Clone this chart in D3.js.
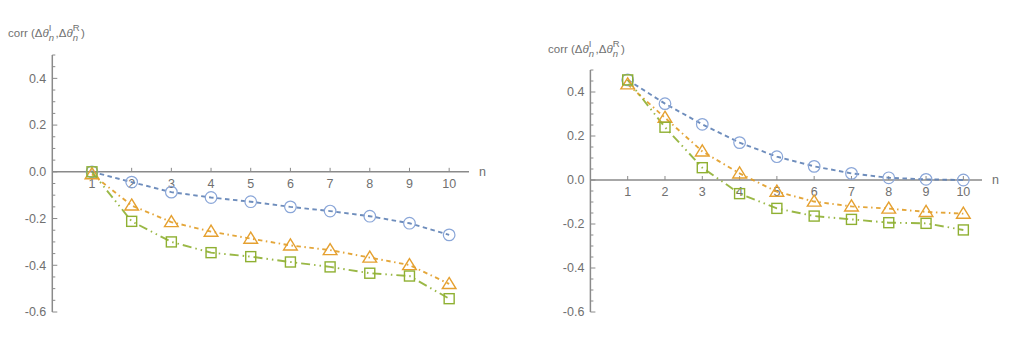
<!DOCTYPE html>
<html><head><meta charset="utf-8">
<script src="https://cdn.jsdelivr.net/npm/d3@7"></script>
<style>
html,body{margin:0;padding:0;background:#fff;}
svg text{font-family:"Liberation Sans",Arial,sans-serif;}
</style></head>
<body>
<svg id="c" width="1024" height="340"></svg>
<script>
const nValues = [1,2,3,4,5,6,7,8,9,10];
const xTickLabels = [1,2,3,4,5,6,7,8,9,10];
const yTickLabels = [0.4,0.2,0.0,-0.2,-0.4,-0.6];
const leftCircle   = [0.0,-0.044,-0.087,-0.11,-0.128,-0.15,-0.168,-0.19,-0.22,-0.27];
const leftTriangle = [-0.01,-0.144,-0.215,-0.256,-0.286,-0.315,-0.335,-0.367,-0.399,-0.48];
const leftSquare   = [0.0,-0.212,-0.30,-0.346,-0.363,-0.386,-0.407,-0.434,-0.446,-0.543];
const rightCircle   = [0.455,0.347,0.253,0.17,0.106,0.062,0.03,0.01,0.003,0.0];
const rightTriangle = [0.435,0.283,0.13,0.03,-0.053,-0.098,-0.12,-0.13,-0.145,-0.153];
const rightSquare   = [0.455,0.24,0.056,-0.062,-0.129,-0.164,-0.179,-0.194,-0.197,-0.227];

const svg = d3.select("#c");
const axisColor = "#8a8a8a", textColor = "#707070";

const seriesStyle = [
  {line:"#5E81B5", mark:"#8aa6d8", dash:"4.5,3.5", shape:"circle"},
  {line:"#E19C24", mark:"#E5A030", dash:"4.5,3.5,1.5,3.5", shape:"triangle"},
  {line:"#8FB032", mark:"#8FB032", dash:"9,4,1.5,4,1.5,4", shape:"square"}
];

function yLabel(g, x0, yb) {
  let cx = x0;
  const fs = 11.5, sfs = 9.5;
  function piece(txt, size, dy, italic) {
    const t = g.append("text").attr("x",cx).attr("y",yb+dy).attr("font-size",size)
      .attr("fill",textColor).attr("font-style",italic?"italic":"normal").text(txt);
    return t.node().getComputedTextLength();
  }
  function supsub(sup, sub) {
    const w1 = piece(sup, sfs, -6, false);
    const w2 = piece(sub, sfs, 4, true);
    cx += Math.max(w1,w2) + 1.5;
  }
  cx += piece("corr (Δ", fs, 0, false);
  cx += piece("θ", fs, 0, true);
  supsub("I","n");
  cx += piece(",Δ", fs, 0, false);
  cx += piece("θ", fs, 0, true);
  supsub("R","n");
  cx += piece(")", fs, 0, false);
}

function drawPanel(g, x0, x1, yTop, yBot, series, labelX, labelY) {
  const x = d3.scaleLinear().domain([0,10.5]).range([x0,x1]);
  const y = d3.scaleLinear().domain([-0.6,0.5]).range([yBot,yTop]);
  const ax = g.append("g");
  ax.append("line").attr("x1",x(0)).attr("x2",x(0)).attr("y1",y(0.5)).attr("y2",y(-0.6))
    .attr("stroke",axisColor).attr("stroke-width",1.5);
  const minor = d3.range(-12,11).map(i=>i*0.05);
  minor.forEach(v=>{
    const isMajor = yTickLabels.some(t=>Math.abs(t-v)<1e-6);
    ax.append("line").attr("x1",x(0)).attr("x2",x(0)+(isMajor?5:3))
      .attr("y1",y(v)).attr("y2",y(v)).attr("stroke",axisColor).attr("stroke-width",1);
  });
  yTickLabels.forEach(v=>{
    ax.append("text").attr("x",x(0)-6).attr("y",y(v)).attr("dy","0.35em")
      .attr("text-anchor","end").attr("font-size",12.5).attr("fill",textColor)
      .text(v.toFixed(1));
  });
  ax.append("line").attr("x1",x(0)).attr("x2",x(10.5)).attr("y1",y(0)).attr("y2",y(0))
    .attr("stroke",axisColor).attr("stroke-width",1.5);
  xTickLabels.forEach(v=>{
    ax.append("line").attr("x1",x(v)).attr("x2",x(v)).attr("y1",y(0)).attr("y2",y(0)-4)
      .attr("stroke",axisColor).attr("stroke-width",1);
    ax.append("text").attr("x",x(v)).attr("y",y(0)+16).attr("text-anchor","middle")
      .attr("font-size",12.5).attr("fill",textColor).text(v);
  });
  ax.append("text").attr("x",x(10.5)+10).attr("y",y(0)).attr("dy","0.35em")
    .attr("font-size",12.5).attr("fill",textColor).text("n");
  yLabel(ax, labelX, labelY);

  const line = d3.line().x((d,i)=>x(nValues[i])).y(d=>y(d));
  series.forEach((vals,si)=>{
    const st = seriesStyle[si];
    g.append("path").attr("d",line(vals)).attr("fill","none").attr("stroke",st.line)
      .attr("stroke-width",1.9).attr("stroke-dasharray",st.dash).attr("opacity",0.9);
  });
  series.forEach((vals,si)=>{
    const st = seriesStyle[si];
    vals.forEach((v,i)=>{
      const cx = x(nValues[i]), cy = y(v);
      if (st.shape==="circle") {
        g.append("circle").attr("cx",cx).attr("cy",cy).attr("r",5.8)
          .attr("fill","none").attr("stroke",st.mark).attr("stroke-width",1.2);
      } else if (st.shape==="triangle") {
        const s = 6.5;
        g.append("path").attr("d",`M${cx},${cy-s}L${cx+s*1.05},${cy+s*0.7}L${cx-s*1.05},${cy+s*0.7}Z`)
          .attr("fill","none").attr("stroke",st.mark).attr("stroke-width",1.4);
      } else {
        const s = 5;
        g.append("rect").attr("x",cx-s).attr("y",cy-s).attr("width",2*s).attr("height",2*s)
          .attr("fill","none").attr("stroke",st.mark).attr("stroke-width",1.4);
      }
    });
  });
}

drawPanel(svg.append("g"), 52.3, 469, 55, 312, [leftCircle,leftTriangle,leftSquare], 8, 37);
drawPanel(svg.append("g"), 590.4, 982, 70, 312, [rightCircle,rightTriangle,rightSquare], 548, 53);
</script>
</body></html>
